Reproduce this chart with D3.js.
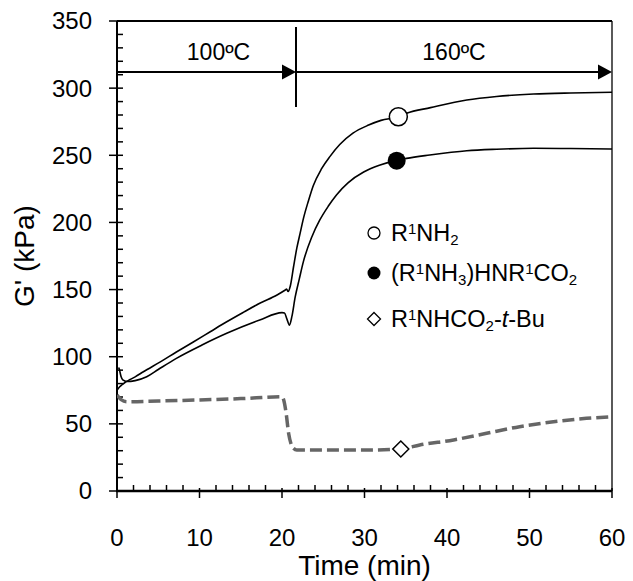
<!DOCTYPE html>
<html><head><meta charset="utf-8">
<script src="https://cdn.jsdelivr.net/npm/d3@7"></script>
<style>body{margin:0;background:#fff}svg{display:block;font-family:"Liberation Sans",Arial,sans-serif}</style>
</head><body>
<svg id="c" width="633" height="581"></svg>
<script>
// ---- data ----
const xTicks = [0, 10, 20, 30, 40, 50, 60];
const yTicks = [0, 50, 100, 150, 200, 250, 300, 350];
const seriesNames = ["R1NH2", "(R1NH3)HNR1CO2", "R1NHCO2-t-Bu"];

const amineT = [0, 0.3, 0.7, 1.0, 1.6, 2.2, 3.2, 5.2, 7.2, 9.25, 11.3, 13.3, 15.3, 17.3, 19.4, 20.4, 20.55, 20.75, 21.0, 21.4, 21.8, 22.2, 22.6, 23.2, 23.8, 24.8, 25.8, 27, 28.6, 30.5, 32, 34.1, 35.1, 38, 42.4, 46, 50.5, 55, 60];
const amineV = [75, 77.5, 79.5, 81, 83, 85, 88.8, 96, 103.5, 111, 118.6, 126, 133, 139.8, 146, 149.7, 150.3, 148.6, 152.5, 167, 181, 192, 203, 216, 227.5, 240, 249, 258, 266.5, 272.5, 276, 278.7, 281.3, 285.5, 291.2, 293.8, 295.6, 296.4, 296.9];

const carbT = [0.2, 0.28, 0.5, 0.7, 1.2, 2.2, 3.6, 5, 7.2, 10.3, 13.3, 17.3, 20, 20.3, 20.6, 20.9, 21.2, 21.6, 22.1, 22.6, 23.6, 24.6, 25.6, 26.6, 28, 29.9, 31.8, 33.9, 35.1, 37.9, 42.4, 46, 50.5, 55, 60];
const carbV = [92, 90.6, 85, 82.7, 81.5, 82.2, 85.1, 90.5, 98.8, 108.7, 117.4, 127.3, 132.8, 132.5, 128, 123.5, 130, 144.5, 158, 171, 189, 202, 212, 220.5, 229.5, 237.5, 242.5, 246.2, 247.7, 250.2, 253.4, 254.5, 255.2, 255, 254.7];

const bocT = [0, 0.5, 1.2, 5, 10, 15, 20, 20.2, 20.5, 20.8, 21.1, 21.4, 21.8, 25, 30, 34.4, 36.7, 40.8, 44.8, 48.8, 52.9, 56.9, 60];
const bocV = [71.5, 68, 66.5, 67, 67.8, 68.8, 70.2, 68, 58, 43, 35, 31.8, 30.5, 30.5, 30.5, 31.3, 34.3, 38, 43, 47.9, 51.6, 54.1, 55.3];

const markT = [34.1, 33.9, 34.4];
const markV = [278.7, 246.0, 31.3];

const stageLabels = ["100ºC", "160ºC"];
const stageBounds = [0, 21.7, 60];
const stageArrowY = 312;

// ---- layout ----
const svg = d3.select("#c");
const L = 117, R = 612, T = 21, B = 491;
const x = d3.scaleLinear().domain([0, 60]).range([L, R]);
const y = d3.scaleLinear().domain([0, 350]).range([B, T]);

svg.append("defs").append("clipPath").attr("id", "clip")
  .append("rect").attr("x", L).attr("y", T).attr("width", R - L).attr("height", B - T);

// frame top/right
svg.append("line").attr("x1", L).attr("x2", R).attr("y1", T).attr("y2", T).attr("stroke", "#000").attr("stroke-width", 2);
svg.append("line").attr("x1", R).attr("x2", R).attr("y1", T).attr("y2", B).attr("stroke", "#000").attr("stroke-width", 1.3);

// x axis
const xMinor = d3.range(0, 61, 2).filter(v => v % 10 !== 0);
const gx = svg.append("g");
gx.selectAll(".mn").data(xMinor).join("line")
  .attr("x1", d => x(d)).attr("x2", d => x(d)).attr("y1", B).attr("y2", B - 6)
  .attr("stroke", "#000").attr("stroke-width", 1.5);
gx.selectAll(".mj").data(xTicks).join("line")
  .attr("x1", d => x(d)).attr("x2", d => x(d)).attr("y1", B - 3).attr("y2", B + 7)
  .attr("stroke", "#000").attr("stroke-width", 1.5);
gx.selectAll("text").data(xTicks).join("text")
  .attr("x", d => x(d)).attr("y", 546).attr("text-anchor", "middle")
  .attr("font-size", 24).text(d => d);

// y axis
const yMinor = d3.range(0, 351, 10).filter(v => v % 50 !== 0);
const gy = svg.append("g");
gy.selectAll(".mn").data(yMinor).join("line")
  .attr("x1", L).attr("x2", L + 6).attr("y1", d => y(d)).attr("y2", d => y(d))
  .attr("stroke", "#000").attr("stroke-width", 1.5);
gy.selectAll(".mj").data(yTicks).join("line")
  .attr("x1", L - 8).attr("x2", L + 6).attr("y1", d => y(d)).attr("y2", d => y(d))
  .attr("stroke", "#000").attr("stroke-width", 1.5);
gy.selectAll("text").data(yTicks).join("text")
  .attr("x", 92).attr("y", d => y(d)).attr("dy", "0.35em").attr("text-anchor", "end")
  .attr("font-size", 24).text(d => d);

svg.append("line").attr("x1", L).attr("x2", L).attr("y1", T).attr("y2", B + 1).attr("stroke", "#000").attr("stroke-width", 2);
svg.append("line").attr("x1", L - 1).attr("x2", R).attr("y1", B).attr("y2", B).attr("stroke", "#000").attr("stroke-width", 2.5);

// axis titles
svg.append("text").attr("x", (L + R) / 2).attr("y", 575).attr("text-anchor", "middle")
  .attr("font-size", 28).text("Time (min)");
svg.append("text").attr("transform", `translate(34,${(T + B) / 2}) rotate(-90)`)
  .attr("text-anchor", "middle").attr("font-size", 28).text("G' (kPa)");

// curves
const line = d3.line().x(d => x(d[0])).y(d => y(d[1])).curve(d3.curveMonotoneX);
const plot = svg.append("g").attr("clip-path", "url(#clip)");
plot.append("path").datum(d3.zip(bocT, bocV)).attr("d", line)
  .attr("fill", "none").attr("stroke", "#666").attr("stroke-width", 3.5)
  .attr("stroke-dasharray", "12,5");
plot.append("path").datum(d3.zip(amineT, amineV)).attr("d", line)
  .attr("fill", "none").attr("stroke", "#000").attr("stroke-width", 1.6);
plot.append("path").datum(d3.zip(carbT, carbV)).attr("d", line)
  .attr("fill", "none").attr("stroke", "#000").attr("stroke-width", 1.6);

// markers
const diamond = (cx, cy, r) => `M${cx},${cy - r}L${cx + r},${cy}L${cx},${cy + r}L${cx - r},${cy}Z`;
svg.append("circle").attr("cx", x(markT[0])).attr("cy", y(markV[0])).attr("r", 9)
  .attr("fill", "#fff").attr("stroke", "#000").attr("stroke-width", 1.5);
svg.append("circle").attr("cx", x(markT[1])).attr("cy", y(markV[1])).attr("r", 9)
  .attr("fill", "#000");
svg.append("path").attr("d", diamond(x(markT[2]), y(markV[2]), 8))
  .attr("fill", "#fff").attr("stroke", "#000").attr("stroke-width", 1.5);

// stage annotations
const ay = y(stageArrowY);
const arrowHead = (tx) => `M${tx},${ay}L${tx - 14},${ay - 7.5}L${tx - 14},${ay + 7.5}Z`;
svg.append("line").attr("x1", x(stageBounds[1])).attr("x2", x(stageBounds[1]))
  .attr("y1", 27).attr("y2", 107).attr("stroke", "#000").attr("stroke-width", 2);
[0, 1].forEach(i => {
  const x0 = x(stageBounds[i]), x1 = x(stageBounds[i + 1]);
  svg.append("line").attr("x1", x0).attr("x2", x1 - 10).attr("y1", ay).attr("y2", ay)
    .attr("stroke", "#000").attr("stroke-width", 2);
  svg.append("path").attr("d", arrowHead(x1)).attr("fill", "#000");
  svg.append("text").attr("x", (x0 + x1) / 2 + (i === 0 ? 12 : 0)).attr("y", 60)
    .attr("text-anchor", "middle").attr("font-size", 23).text(stageLabels[i]);
});

// legend
const lx = 374, tx = 391;
const lg = svg.append("g");
lg.append("circle").attr("cx", lx).attr("cy", 233).attr("r", 6).attr("fill", "#fff").attr("stroke", "#000").attr("stroke-width", 1.3);
lg.append("circle").attr("cx", lx).attr("cy", 273).attr("r", 6.5).attr("fill", "#000");
lg.append("path").attr("d", diamond(lx, 319, 6.5)).attr("fill", "#fff").attr("stroke", "#000").attr("stroke-width", 1.3);

function chem(t, yy, parts) {
  const te = lg.append("text").attr("x", tx).attr("y", yy).attr("font-size", 23.5);
  parts.forEach(p => {
    const s = te.append("tspan").text(p[0]);
    if (p[1] === "sup") s.attr("font-size", 15).attr("baseline-shift", "7");
    else if (p[1] === "sub") s.attr("font-size", 15).attr("baseline-shift", "-4");
    else if (p[1] === "i") s.attr("font-style", "italic");
  });
}
chem(0, 241, [["R"], ["1", "sup"], ["NH"], ["2", "sub"]]);
chem(1, 281, [["(R"], ["1", "sup"], ["NH"], ["3", "sub"], [")HNR"], ["1", "sup"], ["CO"], ["2", "sub"]]);
chem(2, 327, [["R"], ["1", "sup"], ["NHCO"], ["2", "sub"], ["-"], ["t", "i"], ["-Bu"]]);
</script>
</body></html>
